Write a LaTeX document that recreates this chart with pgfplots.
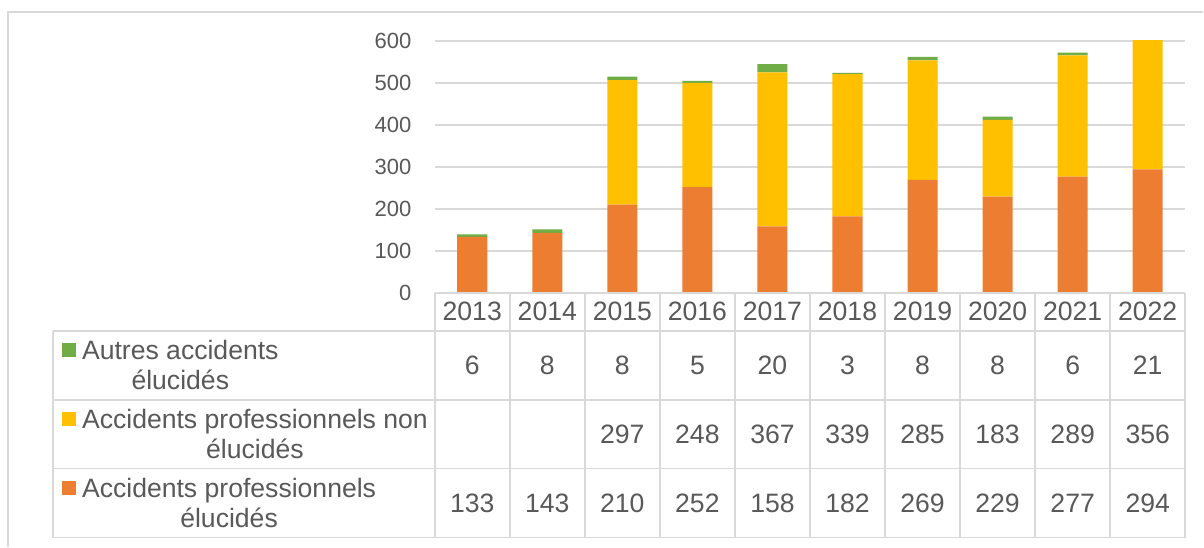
\documentclass[border=0pt]{standalone}
\usepackage{fontspec}
\setmainfont{Liberation Sans}
\usepackage{pgfplots}
\pgfplotsset{compat=1.18}
\definecolor{cOr}{HTML}{ED7D31}
\definecolor{cYe}{HTML}{FFC000}
\definecolor{cGr}{HTML}{70AD47}
\definecolor{cTx}{HTML}{595959}
\definecolor{cGd}{HTML}{D9D9D9}
\begin{document}
\begin{tikzpicture}[x=1pt,y=1pt]
\path[fill=white] (0,0) rectangle (602,273.5);
\draw[cGd, line width=0.8pt] (4,0) -- (4,267.5) -- (602,267.5);
\begin{axis}[
 at={(217.5pt,127pt)}, anchor=south west, scale only axis,
 width=375.5pt, height=126pt,
 xmin=-0.5, xmax=9.5, ymin=0, ymax=600,
 ybar stacked, bar width=0.4,
 axis line style={draw=none},
 xtick=\empty, ytick={0,100,...,600},
 ymajorgrids, grid style={cGd, line width=0.7pt},
 major tick length=0pt,
 yticklabel style={inner sep=0pt, xshift=-11.5pt, font=\fontsize{11}{13}\selectfont, text=cTx},
 /pgf/number format/assume math mode=true,
]
\addplot[fill=cOr, draw=none] coordinates {(0,133) (1,143) (2,210) (3,252) (4,158) (5,182) (6,269) (7,229) (8,277) (9,294)};
\addplot[fill=cYe, draw=none] coordinates {(0,0) (1,0) (2,297) (3,248) (4,367) (5,339) (6,285) (7,183) (8,289) (9,356)};
\addplot[fill=cGr, draw=none] coordinates {(0,6) (1,8) (2,8) (3,5) (4,20) (5,3) (6,8) (7,8) (8,6) (9,21)};
\end{axis}
\begin{scope}[cGd, line width=0.8pt]
\draw (217.5,127) -- (593,127);
\foreach \y in {108,73.5,39,4.5} \draw (26.5,\y) -- (593,\y);
\foreach \i in {0,...,10} \draw ({217.5+37.55*\i},127) -- ({217.5+37.55*\i},4.5);
\draw (26.5,108) -- (26.5,4.5);
\end{scope}
\tikzset{tt/.style={inner sep=0pt, text=cTx, font=\fontsize{13.3}{15}\selectfont}}
\foreach \v [count=\i from 0] in {2013,2014,2015,2016,2017,2018,2019,2020,2021,2022}
  \node[tt] at ({217.5+37.55*(\i+0.5)},117.5) {\v};
\foreach \v [count=\i from 0] in {6,8,8,5,20,3,8,8,6,21}
  \node[tt] at ({217.5+37.55*(\i+0.5)},90.75) {\v};
\foreach \v [count=\i from 0] in {{},{},297,248,367,339,285,183,289,356}
  \node[tt] at ({217.5+37.55*(\i+0.5)},56.25) {\v};
\foreach \v [count=\i from 0] in {133,143,210,252,158,182,269,229,277,294}
  \node[tt] at ({217.5+37.55*(\i+0.5)},21.75) {\v};
\node[tt, anchor=west, align=center] at (40.85,90.75) {Autres accidents\\élucidés};
\node[tt, anchor=west, align=center] at (40.85,56.25) {Accidents professionnels non\\élucidés};
\node[tt, anchor=west, align=center] at (40.85,21.75) {Accidents professionnels\\élucidés};
\fill[cGr] (31.15,94.75) rectangle ++(7,7);
\fill[cYe] (31.15,60.25) rectangle ++(7,7);
\fill[cOr] (31.15,25.75) rectangle ++(7,7);
\end{tikzpicture}
\end{document}
